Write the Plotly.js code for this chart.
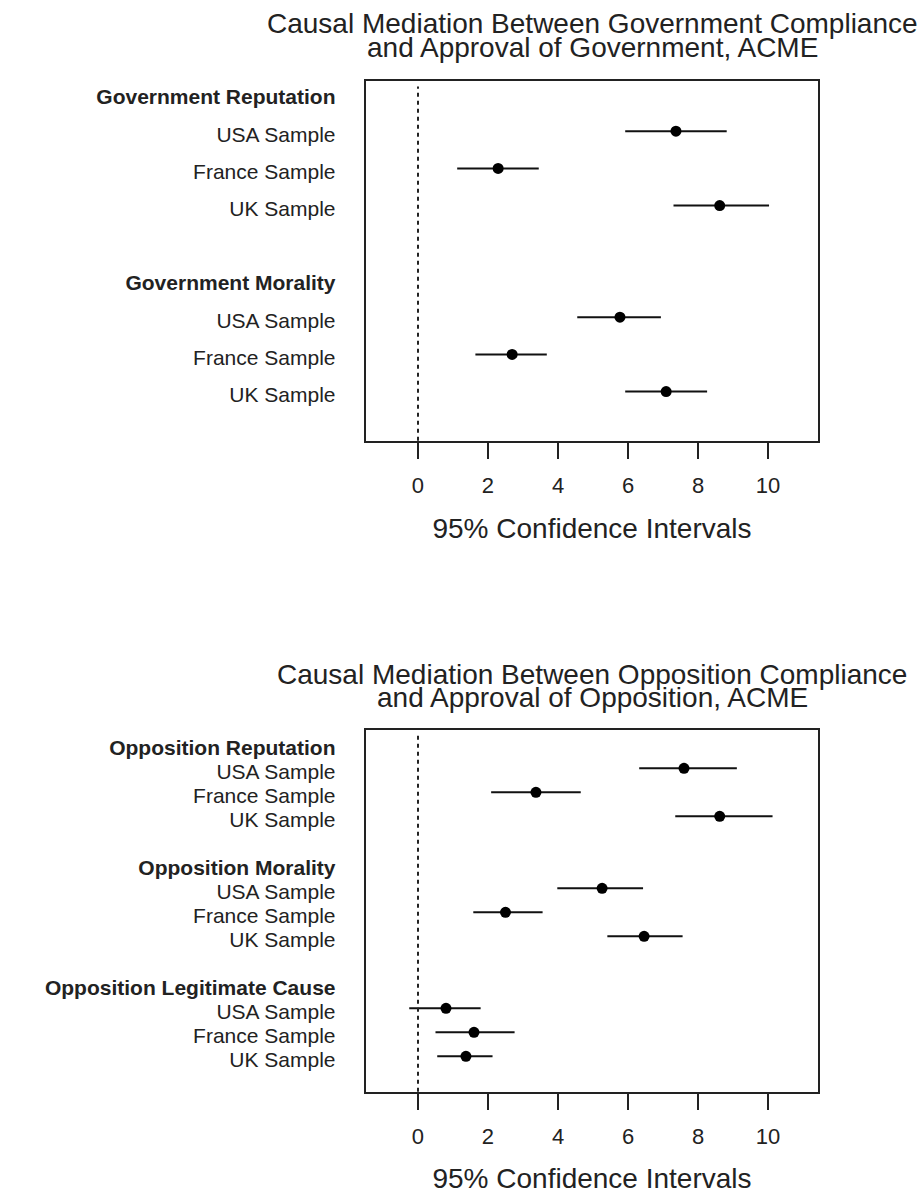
<!DOCTYPE html>
<html>
<head>
<meta charset="utf-8">
<script src="https://cdn.plot.ly/plotly-3.0.1.min.js"></script>
<style>html,body{margin:0;padding:0;background:#fff;}#chart{width:923px;height:1194px;}</style>
</head>
<body>
<div id="chart"></div>
<script>
// ---- data ----
var samples = ["USA Sample", "France Sample", "UK Sample"];

var topGroups = ["Government Reputation", "Government Morality"];
var topEst = [7.37, 2.29, 8.62, 5.77, 2.69, 7.09];
var topLo  = [5.92, 1.12, 7.30, 4.55, 1.64, 5.92];
var topHi  = [8.82, 3.45, 10.03, 6.94, 3.68, 8.26];

var botGroups = ["Opposition Reputation", "Opposition Morality", "Opposition Legitimate Cause"];
var botEst = [7.60, 3.37, 8.62, 5.26, 2.50, 6.46, 0.80, 1.60, 1.37];
var botLo  = [6.32, 2.09, 7.35, 3.98, 1.58, 5.41, -0.25, 0.50, 0.55];
var botHi  = [9.11, 4.65, 10.13, 6.43, 3.56, 7.56, 1.79, 2.76, 2.13];

var xTicks = [0, 2, 4, 6, 8, 10];

var topTitle = ["Causal Mediation Between Government Compliance", "and Approval of Government, ACME"];
var botTitle = ["Causal Mediation Between Opposition Compliance", "and Approval of Opposition, ACME"];
var xTitle = "95% Confidence Intervals";

// ---- build ----
var W = 923, H = 1194;
var FONT = "Liberation Sans, Arial, sans-serif";
var INK = "#222";

function build(groups, est, lo, hi) {
  var ys = [], tv = [], tt = [];
  groups.forEach(function (g, gi) {
    var base = gi * 5;
    tv.push(base); tt.push("<b>" + g + "</b>");
    samples.forEach(function (s, si) {
      tv.push(base + 1 + si); tt.push(s);
      ys.push(base + 1 + si);
    });
  });
  return {ys: ys, tv: tv, tt: tt,
    plus: est.map(function (v, i) { return hi[i] - v; }),
    minus: est.map(function (v, i) { return v - lo[i]; })};
}

var A = build(topGroups, topEst, topLo, topHi);
var B = build(botGroups, botEst, botLo, botHi);

var xd = [365.7 / W, 818.3 / W];
function pyd(top, bot) { return [1 - bot / H, 1 - top / H]; }
var topDom = pyd(81, 440.7), botDom = pyd(730, 1091.7);
var topRange = [9.32, -0.35], botRange = [14.475, -0.596];

function trace(d, est, xa, ya) {
  return {
    type: "scatter", mode: "markers", x: est, y: d.ys, xaxis: xa, yaxis: ya,
    marker: {size: 11, color: "#000"},
    error_x: {type: "data", symmetric: false, array: d.plus, arrayminus: d.minus,
      color: "#111", thickness: 2, width: 0},
    hoverinfo: "x", showlegend: false
  };
}
// outside tick marks: 16px vertical marks hanging below the axis line at each tick value
function tickTrace(xa, ya, dom, range) {
  var unitsPerPx = (range[0] - range[1]) / ((dom[1] - dom[0]) * H);
  var yBelow = range[0] + 8 * unitsPerPx;
  return {
    type: "scatter", mode: "markers", x: xTicks, y: xTicks.map(function () { return yBelow; }),
    xaxis: xa, yaxis: ya, cliponaxis: false, hoverinfo: "skip", showlegend: false,
    marker: {symbol: "line-ns-open", size: 16, color: INK, line: {color: INK, width: 2}}
  };
}

var data = [trace(A, topEst, "x", "y"), trace(B, botEst, "x2", "y2"),
  tickTrace("x", "y", topDom, topRange), tickTrace("x2", "y2", botDom, botRange)];

function xaxis(anchor, standoff) {
  return {
    domain: xd, anchor: anchor, range: [-1.494, 11.437],
    tickvals: xTicks, ticktext: xTicks.map(String),
    ticks: "outside", ticklen: 16, tickwidth: 2, tickcolor: INK, ticklabelstandoff: 8,
    tickfont: {family: FONT, size: 22, color: INK},
    showline: true, mirror: true, linewidth: 2, linecolor: INK,
    showgrid: false, zeroline: false, automargin: true, fixedrange: true,
    title: {text: xTitle, font: {family: FONT, size: 28, color: INK}, standoff: standoff}
  };
}
function yaxis(anchor, dom, range, d) {
  return {
    domain: dom, anchor: anchor, range: range,
    tickvals: d.tv, ticktext: d.tt, ticks: "", ticklabelstandoff: 24, ticklabelshift: -3,
    tickfont: {family: FONT, size: 21, color: INK},
    showline: true, mirror: true, linewidth: 2, linecolor: INK,
    showgrid: false, zeroline: false, automargin: false, fixedrange: true
  };
}

var cx = (xd[0] + xd[1]) / 2;
function titleAnn(lines, y1, y2) {
  return lines.map(function (t, i) {
    return {text: t, xref: "paper", yref: "paper", x: cx, y: 1 - (i ? y2 : y1) / H,
      xanchor: "center", yanchor: "middle", showarrow: false,
      font: {family: FONT, size: 28, color: INK}};
  });
}

function zeroLine(xr, yr) {
  return {type: "line", xref: xr, x0: 0, x1: 0, yref: yr + " domain", y0: 0, y1: 0.985,
    line: {color: INK, width: 2, dash: "4px,4px"}};
}

var layout = {
  width: W, height: H, margin: {l: 0, r: 0, t: 0, b: 0},
  paper_bgcolor: "#fff", plot_bgcolor: "#fff",
  font: {family: FONT, color: INK},
  xaxis: xaxis("y", 21),
  yaxis: yaxis("x", topDom, topRange, A),
  xaxis2: xaxis("y2", 20),
  yaxis2: yaxis("x2", botDom, botRange, B),
  shapes: [zeroLine("x", "y"), zeroLine("x2", "y2")],
  annotations: titleAnn(topTitle, 24, 47).concat(titleAnn(botTitle, 674, 697))
};

Plotly.newPlot("chart", data, layout, {displayModeBar: false, staticPlot: true});
</script>
</body>
</html>
